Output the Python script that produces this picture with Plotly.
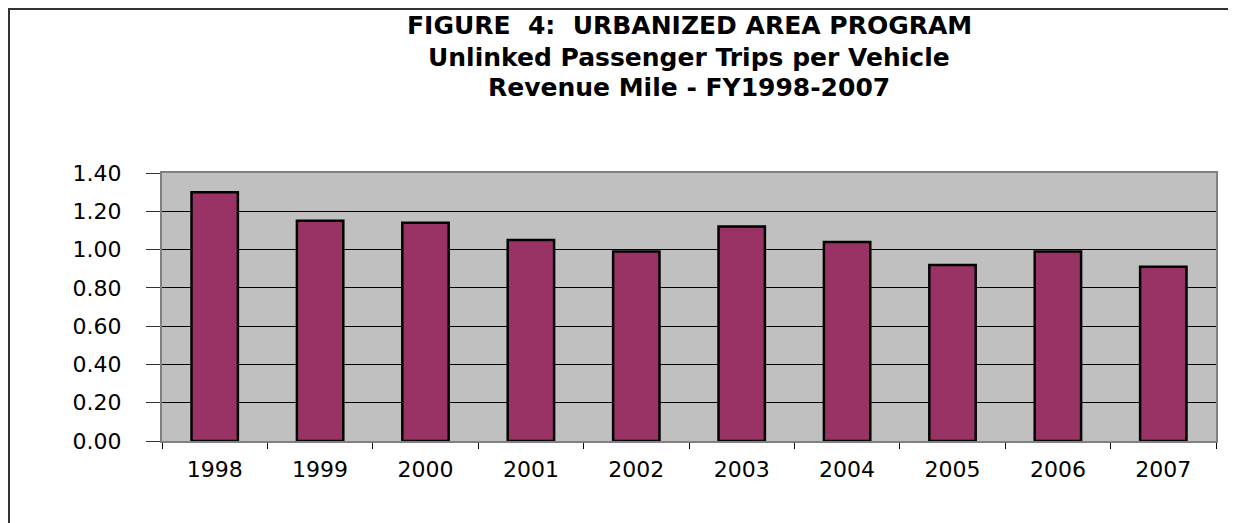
import plotly.graph_objects as go

years = ["1998", "1999", "2000", "2001", "2002", "2003", "2004", "2005", "2006", "2007"]
trips_per_mile = [1.30, 1.15, 1.14, 1.05, 0.99, 1.12, 1.04, 0.92, 0.99, 0.91]
y_ticks = [0.0, 0.2, 0.4, 0.6, 0.8, 1.0, 1.2, 1.4]
title_lines = ["FIGURE\u00a0\u00a04:\u00a0\u00a0URBANIZED AREA PROGRAM",
               "Unlinked Passenger Trips per Vehicle",
               "Revenue Mile - FY1998-2007"]

# page body has an 8px margin, so the figure is drawn 8px in from the top-left
OFF = 8
W, H = 1236 - OFF, 523 - OFF
L, R, T, B = 162 - OFF, 20, 173 - OFF, 82

pw = W - L - R
ph = H - T - B
def px_to_paper_x(px):
    return (px - OFF - L) / pw
def px_to_paper_y(py):
    return (H - B - (py - OFF)) / ph

fig = go.Figure()
fig.add_trace(go.Bar(
    x=years, y=trips_per_mile,
    marker=dict(color="#993366", line=dict(color="#000000", width=2.5)),
    hoverinfo="x+y",
))

title_centers = [25, 58, 88]
annotations = []
for line, cy in zip(title_lines, title_centers):
    annotations.append(dict(
        text="<b>" + line + "</b>",
        xref="paper", yref="paper",
        x=0.5, y=px_to_paper_y(cy),
        xanchor="center", yanchor="middle",
        showarrow=False,
        font=dict(family="DejaVu Sans", size=25, color="#000000"),
    ))

fig.update_layout(
    width=W, height=H,
    margin=dict(l=L, r=R, t=T, b=B),
    paper_bgcolor="white",
    plot_bgcolor="#C0C0C0",
    bargap=0.56,
    showlegend=False,
    annotations=annotations,
    xaxis=dict(
        type="category",
        showgrid=False,
        ticks="outside", ticklen=6, tickcolor="#000000", tickwidth=1,
        tickson="boundaries",
        tickfont=dict(family="DejaVu Sans", size=22, color="#000000"),
        ticklabelstandoff=8,
        showline=True, linecolor="#808080", linewidth=2, mirror=True,
        fixedrange=True,
    ),
    yaxis=dict(
        range=[0, 1.4],
        tickvals=y_ticks,
        tickformat=".2f",
        showgrid=True, gridcolor="#000000", gridwidth=1,
        ticks="outside", ticklen=14, tickcolor="#333333", tickwidth=1,
        tickfont=dict(family="DejaVu Sans", size=22, color="#000000"),
        ticklabelstandoff=20,
        showline=True, linecolor="#808080", linewidth=2, mirror=True,
        zeroline=False,
        fixedrange=True,
    ),
    shapes=[
        dict(type="rect", xref="paper", yref="paper",
             x0=px_to_paper_x(9), x1=px_to_paper_x(1250),
             y0=px_to_paper_y(540), y1=px_to_paper_y(9),
             line=dict(color="#333333", width=2), fillcolor="rgba(0,0,0,0)",
             layer="below"),
    ],
)

fig.write_html("out.html")
